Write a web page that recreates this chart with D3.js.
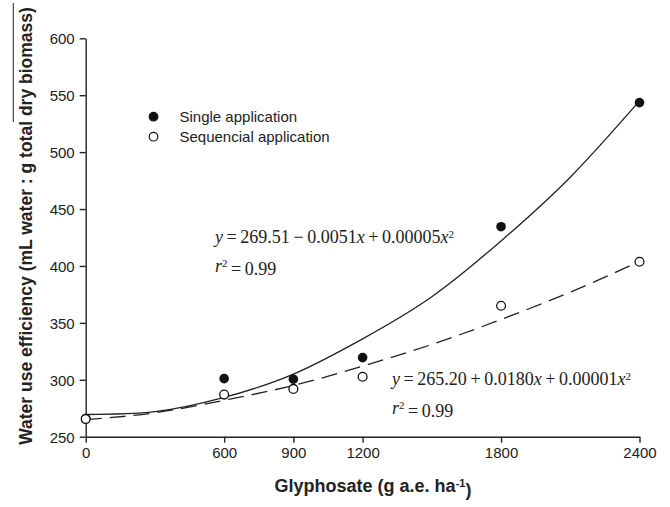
<!DOCTYPE html>
<html>
<head>
<meta charset="utf-8">
<script src="https://cdn.jsdelivr.net/npm/d3@7"></script>
<style>
  body { margin: 0; background: #fff; }
  svg { display: block; }
  .tick text { font-family: "Liberation Sans", Arial, sans-serif; font-size: 15px; fill: #222; }
  .eq { font-family: "Liberation Serif", "Times New Roman", serif; font-size: 18px; fill: #222; }
</style>
</head>
<body>
<div id="chart"></div>
<script>
// Glyphosate doses (g a.e. ha-1)
const doses = [0, 600, 900, 1200, 1800, 2400];
// Water use efficiency observed
const singleWUE = [266, 301, 300.5, 319.5, 434.5, 543.5];
const sequentialWUE = [265.5, 287, 292, 302.7, 365, 403.7];

// Fitted curves
const fitDoses = [0, 300, 600, 900, 1200, 1500, 1800, 2100, 2400];
const singleFit = [269.5, 272, 284.5, 305, 336, 373, 422, 478, 545];
const sequentialFit = [265, 271, 282, 295, 312, 331, 353, 377, 404];

// Axis ticks
const xTicks = [0, 600, 900, 1200, 1800, 2400];
const yTicks = [250, 300, 350, 400, 450, 500, 550, 600];

const W = 670, H = 507;
const margin = { top: 38.3, right: 30.5, bottom: 70.3, left: 85.7 };
const width = W - margin.left - margin.right;
const height = H - margin.top - margin.bottom;

const svg = d3.select("#chart").append("svg")
    .attr("width", W)
    .attr("height", H);

const g = svg.append("g")
    .attr("transform", `translate(${margin.left},${margin.top})`);

// Scales
const x = d3.scaleLinear().domain([0, 2400]).range([0, width]);
const y = d3.scaleLinear().domain([250, 600]).range([height, 0]);

// Axes
const xAxis = g.append("g")
    .attr("transform", `translate(0,${height})`)
    .call(d3.axisBottom(x).tickValues(xTicks).tickFormat(d3.format("d"))
        .tickSize(6).tickSizeOuter(0).tickPadding(5));

const yAxis = g.append("g")
    .call(d3.axisLeft(y).tickValues(yTicks).tickFormat(d3.format("d"))
        .tickSize(6).tickSizeOuter(0).tickPadding(5));

[xAxis, yAxis].forEach(a => {
    a.select(".domain").attr("stroke", "#222").attr("stroke-width", 1.4);
    a.selectAll(".tick line").attr("stroke", "#222").attr("stroke-width", 1.4);
});
yAxis.selectAll(".tick text").attr("dy", "0.36em");

// Fitted lines
const line = d3.line()
    .x((d, i) => x(fitDoses[i]))
    .y(d => y(d))
    .curve(d3.curveNatural);

g.append("path")
    .datum(singleFit)
    .attr("d", line)
    .attr("fill", "none")
    .attr("stroke", "#222")
    .attr("stroke-width", 1.3);

g.append("path")
    .datum(sequentialFit)
    .attr("d", line)
    .attr("fill", "none")
    .attr("stroke", "#222")
    .attr("stroke-width", 1.3)
    .attr("stroke-dasharray", "16,8");

// Points
g.selectAll(".single")
    .data(singleWUE)
    .enter().append("circle")
    .attr("class", "single")
    .attr("cx", (d, i) => x(doses[i]))
    .attr("cy", d => y(d))
    .attr("r", 4.8)
    .attr("fill", "#111");

g.selectAll(".seq")
    .data(sequentialWUE)
    .enter().append("circle")
    .attr("class", "seq")
    .attr("cx", (d, i) => x(doses[i]))
    .attr("cy", d => y(d))
    .attr("r", 4.4)
    .attr("fill", "#fff")
    .attr("stroke", "#111")
    .attr("stroke-width", 1.3);

// Legend
const legendItems = [
    { label: "Single application", fill: "#111" },
    { label: "Sequencial application", fill: "#fff" }
];
const legend = svg.selectAll(".legend")
    .data(legendItems)
    .enter().append("g")
    .attr("class", "legend")
    .attr("transform", (d, i) => `translate(153.5, ${116.7 + i * 20})`);

legend.append("circle")
    .attr("r", 4.3)
    .attr("fill", d => d.fill)
    .attr("stroke", "#111")
    .attr("stroke-width", 1.2);

legend.append("text")
    .attr("x", 26)
    .attr("dy", "0.36em")
    .style("font-family", "Liberation Sans, Arial, sans-serif")
    .style("font-size", "15px")
    .style("fill", "#222")
    .text(d => d.label);

// Equations
const thin = "\u2009";
function equation(xPos, yPos, parts, r2) {
    const t = svg.append("text").attr("class", "eq").attr("x", xPos).attr("y", yPos);
    parts.forEach(p => {
        const s = t.append("tspan").text(p.t);
        if (p.i) s.style("font-style", "italic");
        if (p.sup) s.attr("dy", "-0.45em").style("font-size", "11px");
    });
    const t2 = svg.append("text").attr("class", "eq").attr("x", xPos).attr("y", yPos + 29);
    t2.append("tspan").style("font-style", "italic").text("r");
    t2.append("tspan").attr("dy", "-0.45em").style("font-size", "11px").text("2");
    t2.append("tspan").attr("dy", "0.45em").text(thin + "=" + thin + r2);
}

equation(215, 243, [
    { t: "y", i: true }, { t: thin + "=" + thin + "269.51" + thin + "−" + thin + "0.0051" }, { t: "x", i: true },
    { t: thin + "+" + thin + "0.00005" }, { t: "x", i: true }, { t: "2", sup: true }
], "0.99");

equation(392, 385, [
    { t: "y", i: true }, { t: thin + "=" + thin + "265.20" + thin + "+" + thin + "0.0180" }, { t: "x", i: true },
    { t: thin + "+" + thin + "0.00001" }, { t: "x", i: true }, { t: "2", sup: true }
], "0.99");

// Axis titles
const xTitle = svg.append("text")
    .attr("x", 373)
    .attr("y", 492)
    .attr("text-anchor", "middle")
    .style("font-family", "Liberation Sans, Arial, sans-serif")
    .style("font-weight", "bold")
    .style("font-size", "18px")
    .style("fill", "#222");
xTitle.append("tspan").text("Glyphosate (g a.e. ha");
xTitle.append("tspan").attr("dy", "-0.5em").style("font-size", "11px").text("-1");
xTitle.append("tspan").attr("dy", "0.5em").text(")");

svg.append("text")
    .attr("transform", "translate(32,226) rotate(-90)")
    .attr("text-anchor", "middle")
    .style("font-family", "Liberation Sans, Arial, sans-serif")
    .style("font-weight", "bold")
    .style("font-size", "17.5px")
    .style("fill", "#222")
    .text("Water use efficiency (mL water : g total dry biomass)");

// stray rule beside the y title, as in the source figure
svg.append("line")
    .attr("x1", 13.3).attr("x2", 13.3)
    .attr("y1", 3).attr("y2", 122)
    .attr("stroke", "#222")
    .attr("stroke-width", 1);
</script>
</body>
</html>
